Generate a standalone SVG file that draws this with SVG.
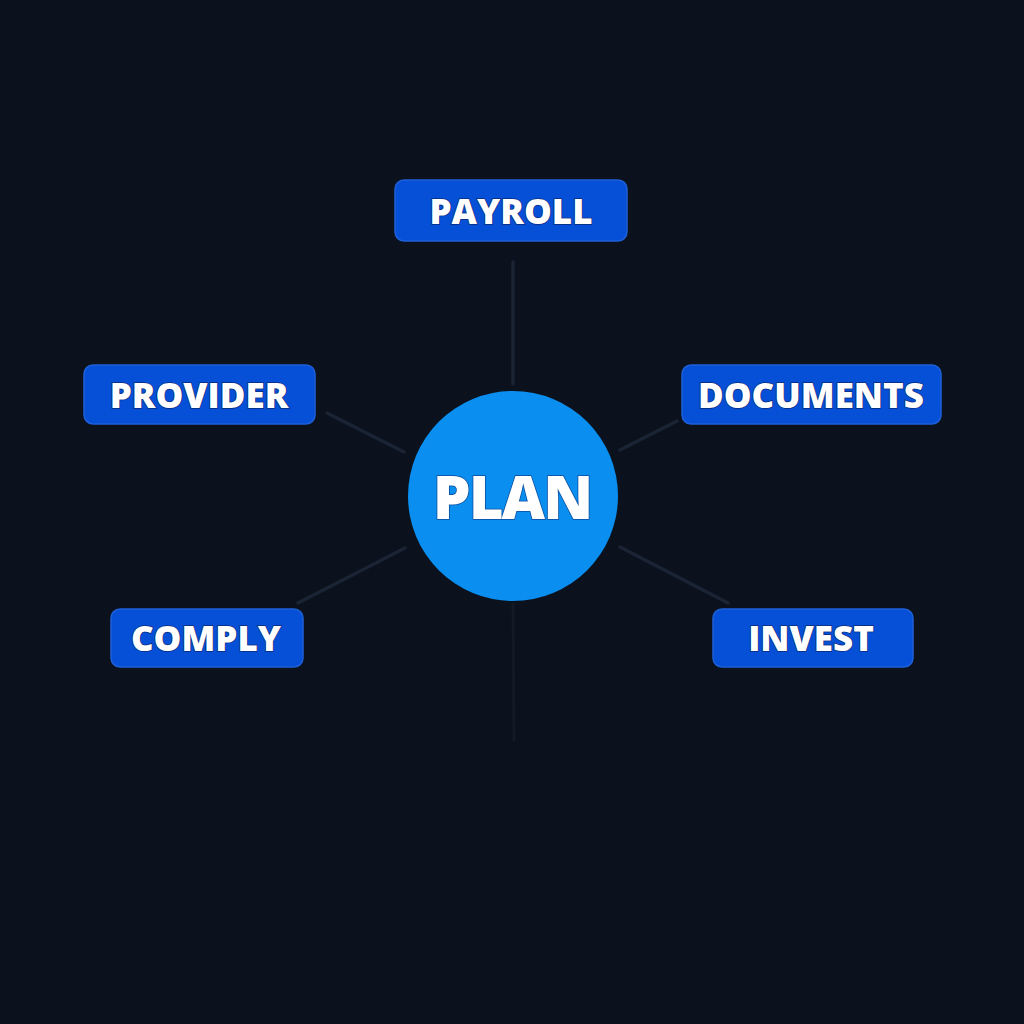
<svg xmlns="http://www.w3.org/2000/svg" width="1024" height="1024" viewBox="0 0 1024 1024">
<style>
.bg{fill:#0b121d}
.box{fill:#0550d6;stroke:#1f5fd8;stroke-width:1.5}
.lbl{font-family:"Open Sans","Noto Sans",sans-serif;font-weight:800;font-size:35px;fill:#ffffff;stroke:#0a2a7a;stroke-width:1.5;paint-order:stroke;text-anchor:middle;dominant-baseline:central}
.hub{fill:#0a8ef0}
.hubt{font-family:"Open Sans","Noto Sans",sans-serif;font-weight:800;font-size:60px;letter-spacing:-2px;fill:#ffffff;stroke:#0a4a9a;stroke-width:1.5;paint-order:stroke;text-anchor:middle;dominant-baseline:central}
.con{stroke:#1a2434;stroke-width:3.5;stroke-linecap:round;fill:none}
.faint{stroke:#121a27;stroke-width:3}
</style>
<rect class="bg" x="0" y="0" width="1024" height="1024"/>
<g id="connectors">
<line class="con" x1="513" y1="262" x2="513" y2="384"/>
<line class="con" x1="327" y1="413" x2="404" y2="452"/>
<line class="con" x1="677" y1="421" x2="620" y2="450"/>
<line class="con" x1="298" y1="603" x2="405" y2="548"/>
<line class="con" x1="620" y1="547" x2="728" y2="603"/>
<line class="con faint" x1="513" y1="604" x2="514" y2="740"/>
</g>
<g id="plan">
<circle class="hub" cx="513" cy="496" r="105"/>
<text class="hubt" x="512" y="496">PLAN</text>
</g>
<g id="payroll">
<rect class="box" x="395" y="180" width="232" height="61" rx="9"/>
<text class="lbl" x="511" y="210">PAYROLL</text>
</g>
<g id="provider">
<rect class="box" x="84" y="365" width="231" height="59" rx="9"/>
<text class="lbl" x="199" y="394">PROVIDER</text>
</g>
<g id="documents">
<rect class="box" x="682" y="365" width="259" height="59" rx="9"/>
<text class="lbl" x="811" y="394">DOCUMENTS</text>
</g>
<g id="comply">
<rect class="box" x="111" y="609" width="192" height="58" rx="9"/>
<text class="lbl" x="206" y="637">COMPLY</text>
</g>
<g id="invest">
<rect class="box" x="713" y="609" width="200" height="58" rx="9"/>
<text class="lbl" x="811" y="637">INVEST</text>
</g>
</svg>
